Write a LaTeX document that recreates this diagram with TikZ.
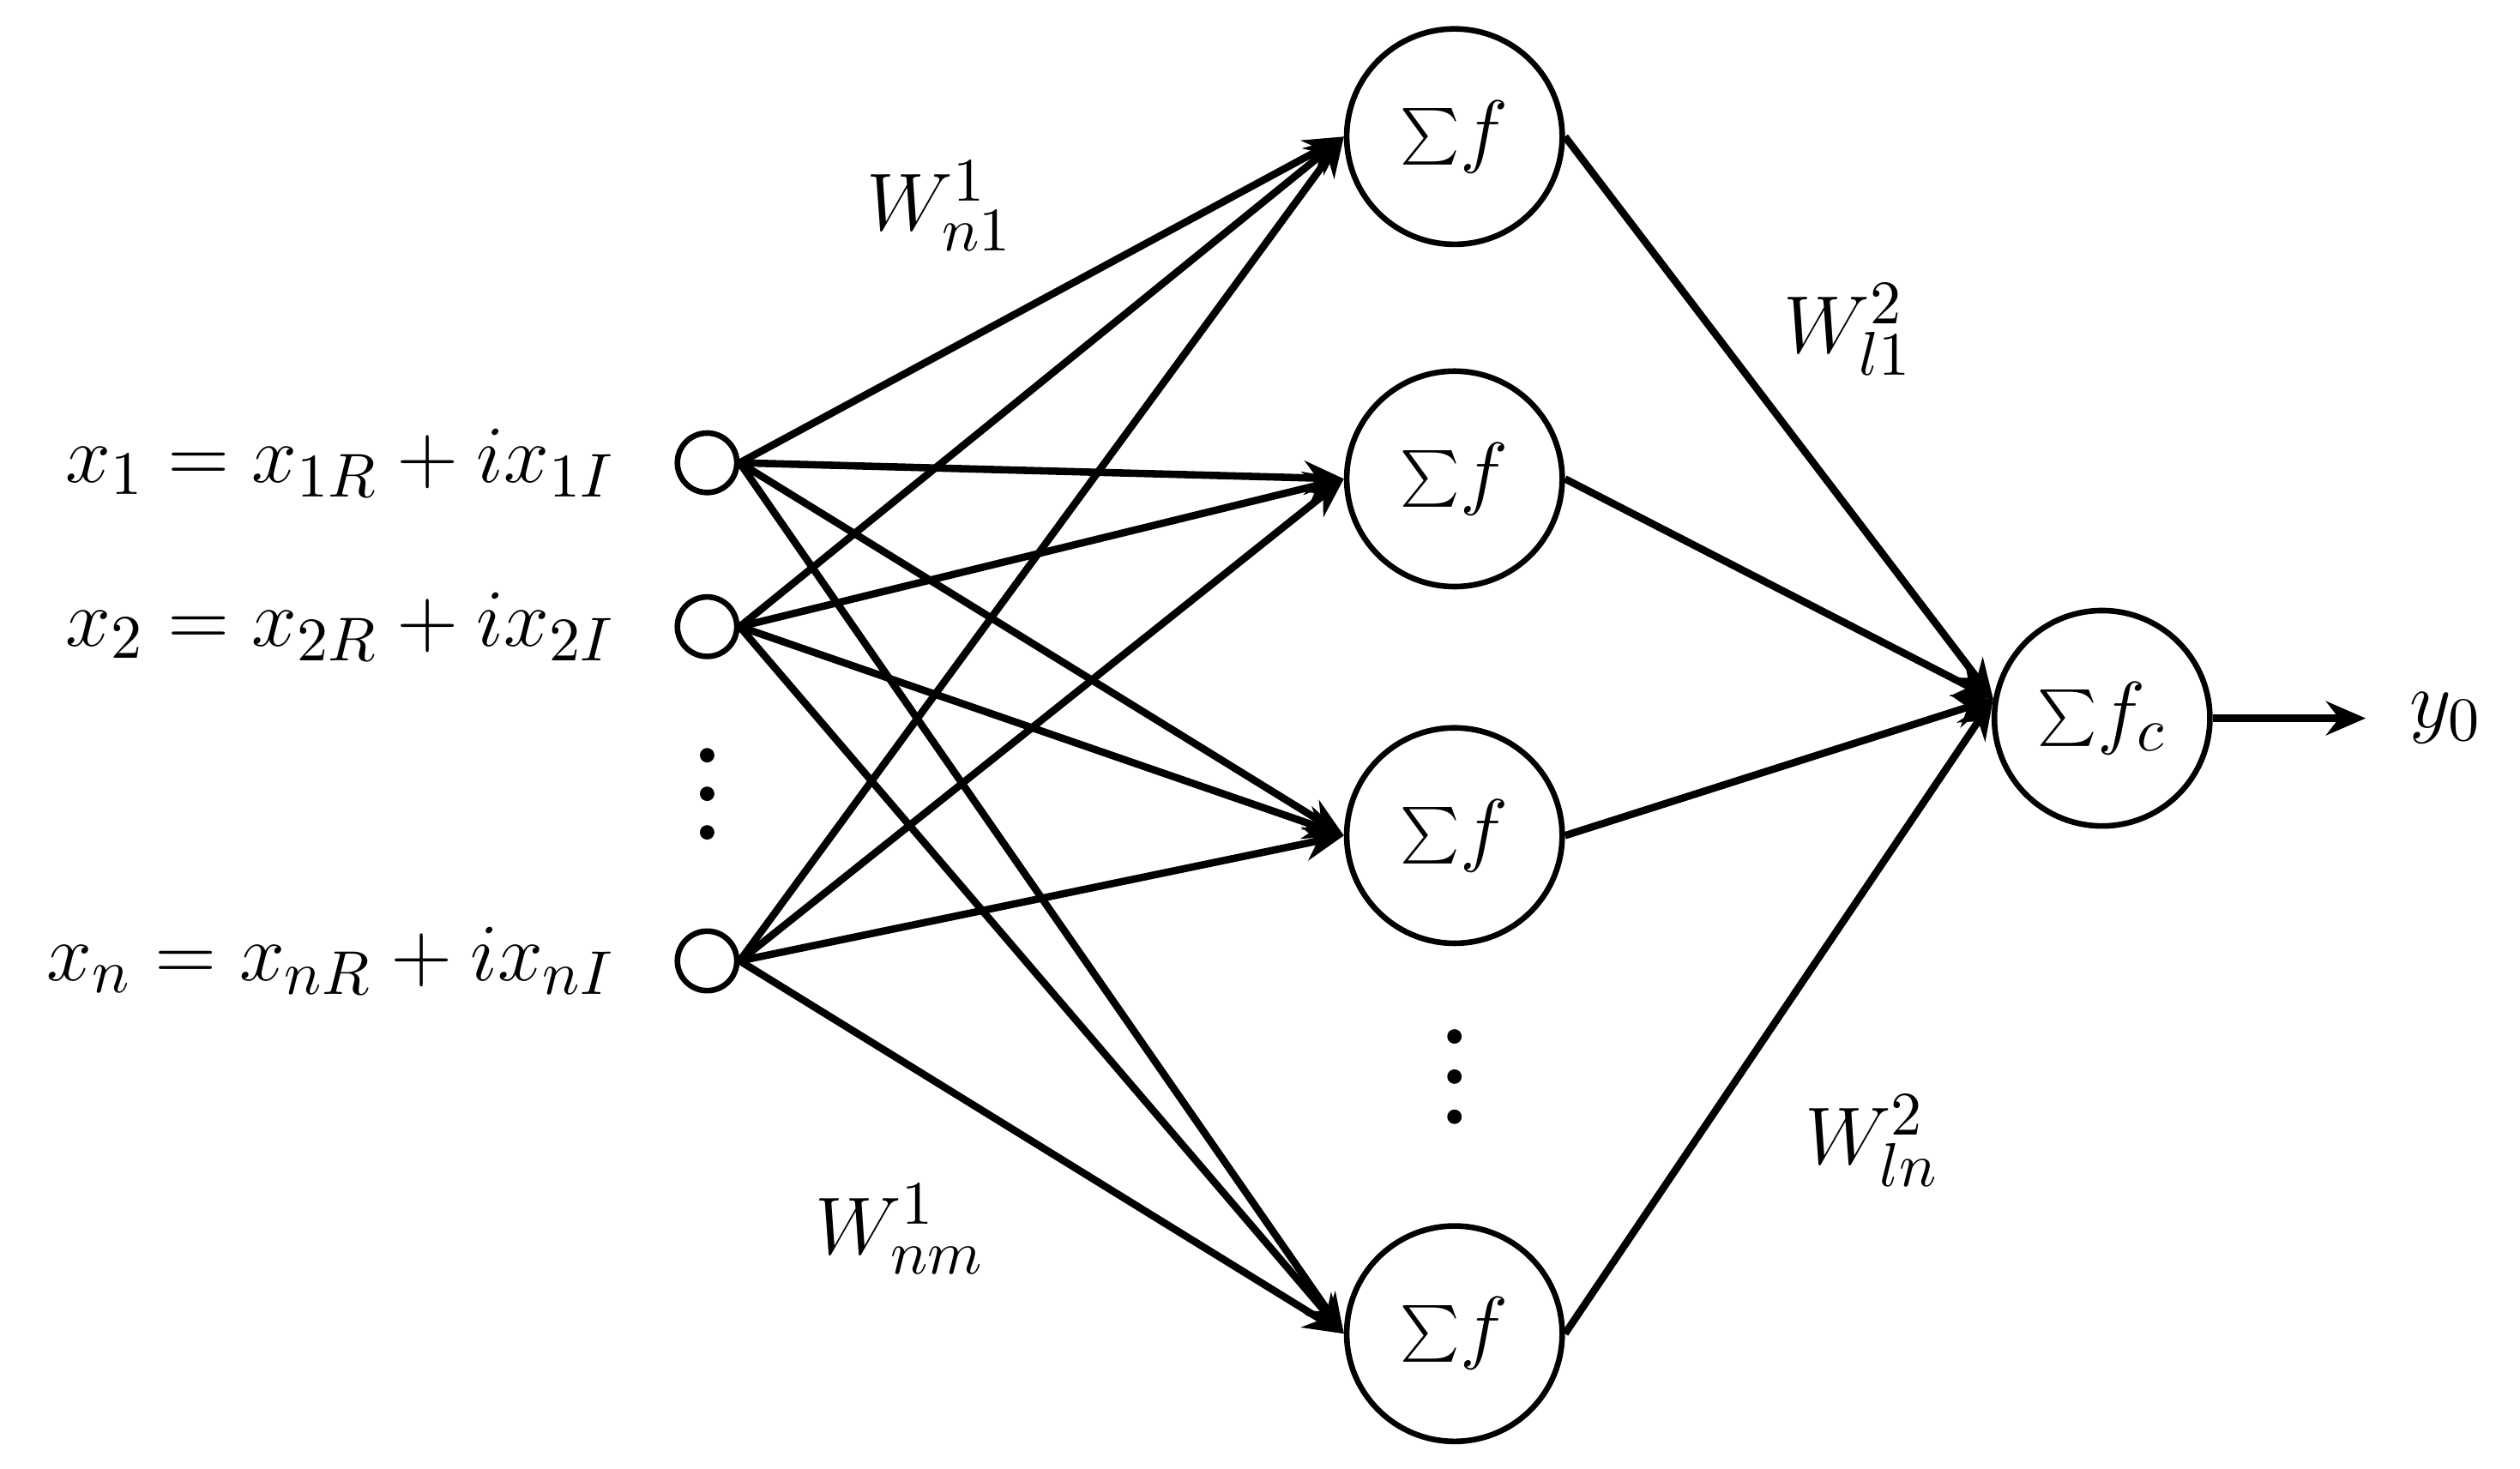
\documentclass[tikz,border=0pt]{standalone}
\usetikzlibrary{arrows.meta}
\begin{document}
\begin{tikzpicture}[x=0.01cm,y=-0.01cm,
  inp/.style={circle,draw,line width=1pt,minimum size=0.37cm,inner sep=0pt},
  hid/.style={circle,draw,line width=1pt,minimum size=1.34cm,inner sep=0pt},
  con/.style={line width=1.3pt,-{Stealth[length=7pt,width=6pt]}},
  lab/.style={font=\fontsize{15}{18}\selectfont},
  dot/.style={circle,fill,inner sep=0pt,minimum size=0.09cm}]
\useasboundingbox (0,0) rectangle (1568,914);
\node[inp] (i1) at (440,288) {};
\node[inp] (i2) at (440,390) {};
\node[inp] (i3) at (440,598) {};
\node[lab,anchor=east] (t1) at (395,288) {$x_1 = x_{1R} + i x_{1I}$};
\node[lab,anchor=east] (t2) at (395,390) {$x_2 = x_{2R} + i x_{2I}$};
\node[lab,anchor=east] (t3) at (395,598) {$x_n = x_{nR} + i x_{nI}$};
\node[dot] (d1) at (440,470) {};
\node[dot] (d2) at (440,494) {};
\node[dot] (d3) at (440,518) {};
\node[hid,lab] (h1) at (905,85) {$\sum\! f$};
\node[hid,lab] (h2) at (905,298) {$\sum\! f$};
\node[hid,lab] (h3) at (905,520) {$\sum\! f$};
\node[hid,lab] (h4) at (905,830) {$\sum\! f$};
\node[dot] (e1) at (905,645) {};
\node[dot] (e2) at (905,670) {};
\node[dot] (e3) at (905,695) {};
\node[hid,lab] (o) at (1308,447) {$\sum\! f_c$};
\node[lab] (y) at (1522,447) {$y_0$};
\coordinate (yend) at (1472,447);
\foreach \i in {i1,i2,i3}{
  \foreach \h in {h1,h2,h3,h4}{
    \draw[con] (\i.east) -- (\h.west);
  }
}
\foreach \h in {h1,h2,h3,h4}{ \draw[con] (\h.east) -- (o.170); }
\draw[con] (o) -- (yend);
\node[lab] (w1) at (585,128) {$W^1_{n1}$};
\node[lab] (w2) at (1150,205) {$W^2_{l1}$};
\node[lab] (w3) at (1165,710) {$W^2_{ln}$};
\node[lab] (w4) at (560,765) {$W^1_{nm}$};
\end{tikzpicture}
\end{document}
